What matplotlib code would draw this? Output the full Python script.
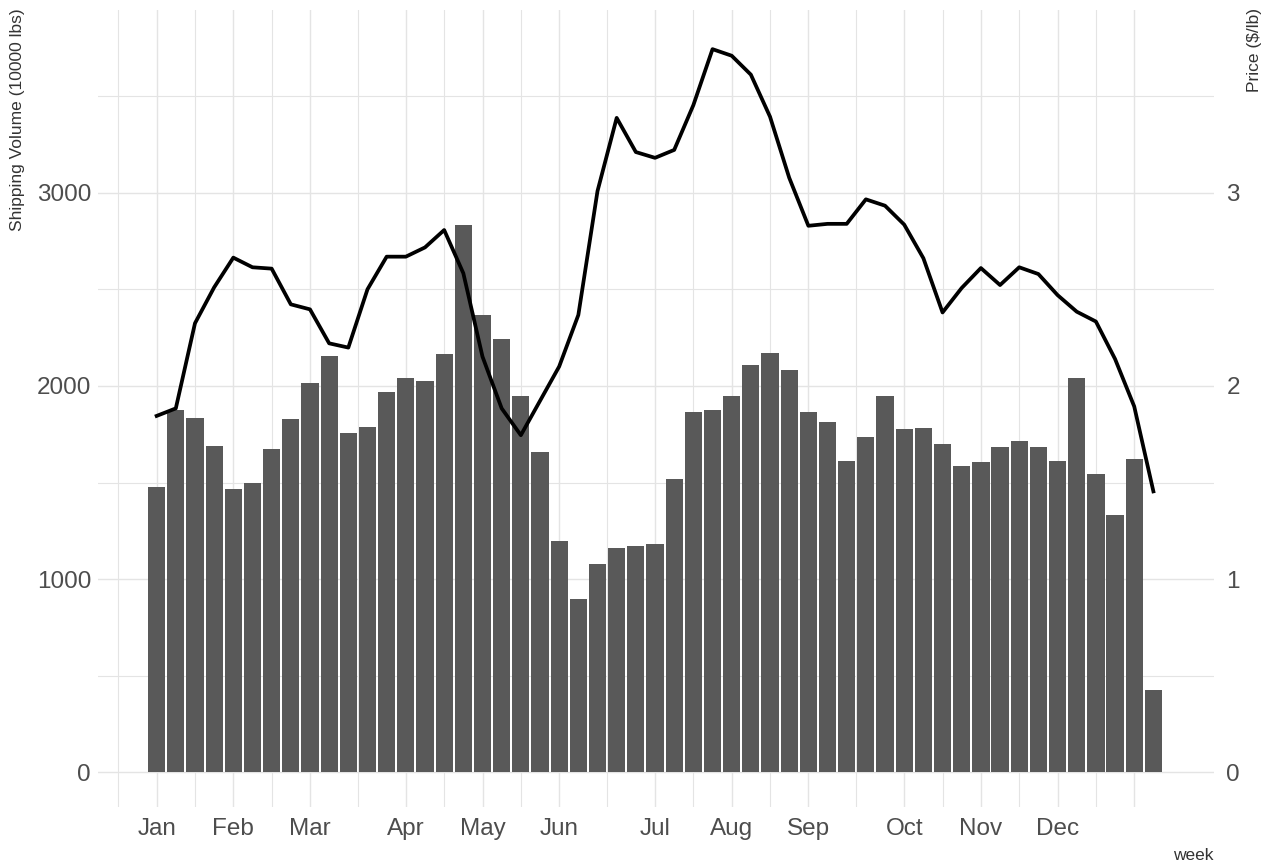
import matplotlib.pyplot as plt
import numpy as np

# weekly data
weeks = np.arange(1, 54)
volume = [1478, 1876, 1832, 1689, 1466, 1496, 1675, 1831, 2017, 2157,
          1758, 1789, 1971, 2040, 2026, 2166, 2834, 2368, 2243, 1947,
          1656, 1196, 896, 1077, 1162, 1172, 1182, 1518, 1864, 1874,
          1949, 2111, 2170, 2085, 1863, 1812, 1611, 1738, 1947, 1775,
          1781, 1701, 1583, 1607, 1685, 1714, 1685, 1611, 2041, 1542,
          1331, 1622, 424]
price = [1.845, 1.884, 2.325, 2.511, 2.665, 2.615, 2.608, 2.423, 2.397, 2.221,
         2.199, 2.501, 2.670, 2.670, 2.718, 2.808, 2.584, 2.152, 1.884, 1.745,
         1.923, 2.101, 2.368, 3.010, 3.389, 3.212, 3.182, 3.223, 3.455, 3.745,
         3.711, 3.613, 3.395, 3.079, 2.830, 2.840, 2.840, 2.967, 2.934, 2.836,
         2.662, 2.381, 2.508, 2.611, 2.523, 2.615, 2.580, 2.471, 2.385, 2.334,
         2.140, 1.894, 1.454]

month_weeks = [-3, 1, 5, 9, 14, 18, 22, 27, 31, 35, 40, 44, 48, 52]
month_labels = ['', 'Jan', 'Feb', 'Mar', 'Apr', 'May', 'Jun', 'Jul', 'Aug',
                'Sep', 'Oct', 'Nov', 'Dec', '']
vol_ticks = [0, 1000, 2000, 3000]
price_ticks = [0, 1, 2, 3]

font = ['Liberation Sans', 'DejaVu Sans']
tick_col = '#4d4d4d'
grid_col = '#e4e4e4'

fig = plt.figure(figsize=(12.66, 8.68), dpi=100)
ax = fig.add_axes([0.0774, 0.0703, 0.8815, 0.9182])
ax2 = ax.twinx()

ax.bar(weeks, volume, width=0.9, color='#595959', zorder=2)
ax2.plot(weeks, price, color='black', lw=2.7, zorder=3)

minor_x = [(a + b) / 2 for a, b in zip(month_weeks[:-1], month_weeks[1:])]
ax.set_xticks(month_weeks)
ax.set_xticklabels(month_labels)
ax.set_xticks(minor_x, minor=True)
ax.set_yticks(vol_ticks)
ax.set_yticks([v + 500 for v in vol_ticks], minor=True)
ax2.set_yticks(price_ticks)

# limits after the ticks, otherwise the -3 break widens the view
ax.set_xlim(-2.06, 56.16)
ax.set_ylim(-181, 3948)
ax2.set_ylim(-0.181, 3.948)

ax.grid(which='major', color=grid_col, lw=1.0, zorder=0)
ax.grid(which='minor', color=grid_col, lw=0.8, zorder=0)
ax.set_axisbelow(True)

for a in (ax, ax2):
    for s in a.spines.values():
        s.set_visible(False)
    a.tick_params(which='both', length=0, colors=tick_col, labelsize=17.5)
ax.tick_params(axis='y', pad=5)
ax.tick_params(axis='x', pad=8)
ax2.tick_params(axis='y', pad=9)
for lab in ax.get_xticklabels() + ax.get_yticklabels() + ax2.get_yticklabels():
    lab.set_family(font)

fig.text(18 / 1266, 1 - 8 / 868, 'Shipping Volume (10000 lbs)', rotation=90,
         ha='center', va='top', fontsize=12.5, color='#333333', family=font)
fig.text(1255 / 1266, 1 - 8 / 868, 'Price ($/lb)', rotation=90,
         ha='center', va='top', fontsize=12.5, color='#333333', family=font)
fig.text(1214 / 1266, 1 - 856 / 868, 'week', ha='right', va='center',
         fontsize=12.5, color='#333333', family=font)

fig.savefig('out.png', dpi=100)
